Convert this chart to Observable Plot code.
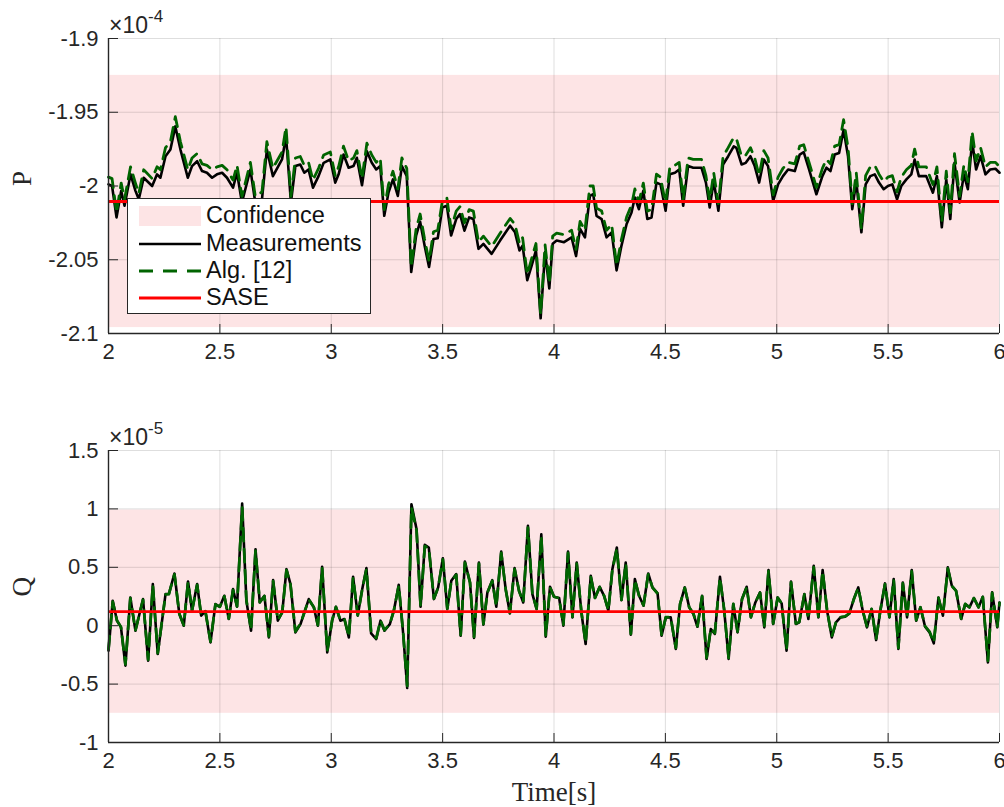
<!DOCTYPE html>
<html>
<head>
<meta charset="utf-8">
<script src="https://cdn.jsdelivr.net/npm/d3@7"></script>
<script src="https://cdn.jsdelivr.net/npm/@observablehq/plot@0.6"></script>
<style>
  body { margin: 0; background: #fff; }
  #wrap { position: relative; width: 1004px; height: 807px; font-family: "Liberation Sans", Arial, sans-serif; }
  #wrap svg { display: block; }
  .legend { position: absolute; left: 127px; top: 198px; width: 242px; height: 114px; background: #fff; border: 1.5px solid #262626; }
  .row { position: absolute; left: 0; height: 26px; width: 240px; }
  .row svg { position: absolute; left: 11px; top: 0; }
  .row span { position: absolute; left: 78px; top: -1px; font-size: 23.5px; line-height: 26px; color: #111; white-space: nowrap; }
</style>
</head>
<body>
<div id="wrap">
  <div id="top"></div>
  <div id="bottom"></div>
  <div class="legend">
    <div class="row" style="top:4px"><svg width="62" height="26"><rect x="0" y="3" width="62" height="20" fill="#fde4e5"></rect></svg><span>Confidence</span></div>
    <div class="row" style="top:31.5px"><svg width="62" height="26"><line x1="0" x2="62" y1="13" y2="13" stroke="#000" stroke-width="2.5"></line></svg><span>Measurements</span></div>
    <div class="row" style="top:58.5px"><svg width="62" height="26"><line x1="0" x2="62" y1="13" y2="13" stroke="#006400" stroke-width="2.8" stroke-dasharray="14,10"></line></svg><span>Alg. [12]</span></div>
    <div class="row" style="top:85.5px"><svg width="62" height="26"><line x1="0" x2="62" y1="13" y2="13" stroke="#ff0000" stroke-width="2.8"></line></svg><span>SASE</span></div>
  </div>
</div>
<script>
// ---------- shared axis data ----------
const xDomain = [2, 6];
const xTicks = [2, 2.5, 3, 3.5, 4, 4.5, 5, 5.5, 6];

// ---------- P panel (×10^-4) ----------
const pDomain = [-2.1, -1.9];
const pTicks = [-2.1, -2.05, -2, -1.95, -1.9];
const pBand = [-2.096, -1.925];
const pSase = -2.0105;
const pT = [2.000,2.016,2.036,2.057,2.072,2.099,2.121,2.136,2.158,2.196,2.218,2.233,2.256,2.278,2.300,2.323,2.356,2.375,2.398,2.420,
2.442,2.465,2.487,2.510,2.532,2.559,2.577,2.599,2.637,2.659,2.689,2.711,2.738,2.779,2.797,2.819,2.839,2.861,2.879,2.898,
2.918,2.943,2.966,2.996,3.018,3.033,3.055,3.078,3.100,3.115,3.138,3.160,3.182,3.202,3.220,3.238,3.257,3.277,3.299,3.317,
3.339,3.359,3.381,3.399,3.419,3.439,3.459,3.478,3.499,3.519,3.538,3.561,3.578,3.598,3.619,3.638,3.661,3.683,3.720,3.758,
3.803,3.825,3.845,3.859,3.880,3.900,3.919,3.940,3.960,3.979,3.994,4.012,4.045,4.079,4.099,4.117,4.139,4.161,4.176,4.191,
4.214,4.236,4.259,4.281,4.303,4.326,4.348,4.363,4.381,4.401,4.419,4.438,4.460,4.478,4.501,4.520,4.543,4.562,4.580,4.602,
4.625,4.662,4.682,4.699,4.717,4.738,4.759,4.782,4.807,4.819,4.842,4.861,4.882,4.901,4.921,4.942,4.961,4.984,5.006,5.028,
5.051,5.081,5.103,5.121,5.145,5.178,5.205,5.223,5.241,5.260,5.280,5.300,5.320,5.339,5.357,5.380,5.399,5.420,5.440,5.459,
5.480,5.499,5.519,5.540,5.559,5.582,5.604,5.619,5.638,5.671,5.701,5.719,5.741,5.761,5.779,5.798,5.821,5.840,5.858,5.877,
5.895,5.915,5.937,5.958,5.982,6.000];
const pMeas = [-1.9989,-2.0000,-2.0213,-2.0033,-2.0134,-1.9921,-2.0033,-2.0090,-1.9944,-2.0000,-1.9921,-1.9944,-1.9798,-1.9753,-1.9596,-1.9753,-1.9944,-1.9865,-1.9832,-1.9899,
-1.9910,-1.9944,-1.9921,-1.9910,-1.9944,-2.0011,-1.9910,-2.0112,-1.9888,-2.0112,-2.0090,-1.9753,-1.9933,-1.9820,-1.9663,-2.0112,-1.9865,-1.9854,-1.9910,-1.9888,
-2.0011,-1.9933,-1.9843,-1.9820,-1.9977,-1.9921,-1.9787,-1.9876,-1.9865,-1.9809,-1.9995,-1.9764,-1.9843,-1.9888,-1.9865,-2.0202,-2.0045,-1.9955,-2.0067,-1.9865,
-1.9933,-2.0583,-2.0336,-2.0242,-2.0404,-2.0549,-2.0359,-2.0354,-2.0146,-2.0134,-2.0336,-2.0224,-2.0191,-2.0303,-2.0213,-2.0224,-2.0426,-2.0392,-2.0460,-2.0370,
-2.0269,-2.0314,-2.0437,-2.0404,-2.0639,-2.0538,-2.0437,-2.0897,-2.0448,-2.0695,-2.0392,-2.0370,-2.0381,-2.0348,-2.0475,-2.0291,-2.0348,-2.0067,-2.0056,-2.0202,
-2.0224,-2.0348,-2.0314,-2.0572,-2.0404,-2.0258,-2.0179,-2.0078,-2.0157,-2.0033,-2.0224,-2.0213,-1.9977,-1.9989,-2.0168,-1.9921,-1.9910,-1.9888,-2.0134,-1.9865,
-1.9876,-1.9876,-1.9977,-2.0146,-1.9966,-2.0168,-1.9854,-1.9798,-1.9731,-1.9742,-1.9854,-1.9843,-1.9798,-1.9865,-1.9977,-1.9820,-1.9865,-2.0101,-1.9989,-1.9933,
-1.9888,-1.9899,-1.9787,-1.9771,-1.9888,-2.0056,-1.9933,-1.9876,-1.9899,-1.9787,-1.9776,-1.9619,-1.9798,-2.0157,-1.9966,-2.0314,-1.9989,-1.9933,-1.9921,-1.9977,
-2.0022,-2.0000,-1.9989,-2.0090,-2.0000,-1.9955,-1.9921,-1.9820,-1.9933,-1.9933,-2.0045,-1.9933,-2.0280,-1.9955,-2.0224,-1.9843,-2.0112,-1.9921,-2.0022,-1.9697,
-1.9888,-1.9798,-1.9921,-1.9888,-1.9883,-1.9910];
const pAlg = [-1.994,-1.995,-2.018,-1.998,-2.009,-1.987,-1.998,-2.005,-1.989,-1.995,-1.987,-1.989,-1.974,-1.970,-1.953,-1.970,-1.989,-1.981,-1.978,-1.985,
-1.986,-1.989,-1.987,-1.986,-1.989,-1.996,-1.986,-2.007,-1.984,-2.007,-2.004,-1.970,-1.988,-1.977,-1.960,-2.007,-1.981,-1.980,-1.986,-1.984,
-1.996,-1.988,-1.979,-1.977,-1.993,-1.987,-1.973,-1.983,-1.981,-1.976,-1.995,-1.971,-1.979,-1.984,-1.981,-2.016,-1.999,-1.990,-2.002,-1.981,
-1.988,-2.055,-2.029,-2.019,-2.036,-2.051,-2.031,-2.030,-2.010,-2.008,-2.029,-2.017,-2.014,-2.025,-2.016,-2.017,-2.038,-2.034,-2.041,-2.032,
-2.022,-2.026,-2.039,-2.035,-2.060,-2.049,-2.039,-2.087,-2.040,-2.066,-2.034,-2.032,-2.033,-2.030,-2.043,-2.024,-2.030,-2.000,-2.000,-2.015,
-2.017,-2.030,-2.026,-2.054,-2.036,-2.021,-2.013,-2.002,-2.011,-1.998,-2.017,-2.016,-1.992,-1.994,-2.012,-1.987,-1.986,-1.984,-2.009,-1.981,
-1.982,-1.982,-1.993,-2.010,-1.991,-2.012,-1.980,-1.974,-1.967,-1.968,-1.980,-1.979,-1.974,-1.981,-1.993,-1.976,-1.981,-2.006,-1.994,-1.988,
-1.984,-1.985,-1.973,-1.972,-1.984,-2.001,-1.988,-1.982,-1.985,-1.973,-1.972,-1.955,-1.974,-2.012,-1.991,-2.029,-1.993,-1.987,-1.986,-1.992,
-1.997,-1.994,-1.993,-2.004,-1.994,-1.989,-1.986,-1.975,-1.987,-1.987,-1.999,-1.987,-2.024,-1.990,-2.018,-1.978,-2.007,-1.986,-1.997,-1.963,
-1.983,-1.974,-1.987,-1.984,-1.984,-1.987];

// ---------- Q panel (×10^-5) ----------
const qDomain = [-1, 1.5];
const qTicks = [-1, -0.5, 0, 0.5, 1, 1.5];
const qBand = [-0.75, 0.99];
const qSase = 0.12;
const qT = [2.000,2.019,2.038,2.056,2.076,2.098,2.121,2.155,2.178,2.199,2.221,2.256,2.271,2.296,2.318,2.338,2.357,2.375,2.398,2.416,
2.435,2.458,2.480,2.500,2.520,2.540,2.559,2.577,2.600,2.619,2.640,2.660,2.679,2.700,2.720,2.739,2.760,2.780,2.799,2.817,
2.839,2.862,2.899,2.922,2.940,2.959,2.982,3.004,3.021,3.041,3.059,3.079,3.098,3.119,3.139,3.158,3.179,3.202,3.221,3.239,
3.263,3.281,3.303,3.323,3.341,3.360,3.383,3.401,3.420,3.438,3.461,3.480,3.501,3.521,3.539,3.561,3.581,3.600,3.623,3.641,
3.663,3.683,3.701,3.723,3.741,3.763,3.783,3.802,3.823,3.843,3.862,3.883,3.903,3.922,3.943,3.963,3.982,4.000,4.023,4.042,
4.063,4.083,4.102,4.123,4.142,4.165,4.184,4.205,4.225,4.244,4.262,4.282,4.303,4.322,4.345,4.363,4.382,4.402,4.423,4.442,
4.465,4.483,4.502,4.524,4.547,4.566,4.587,4.607,4.626,4.644,4.665,4.685,4.704,4.722,4.745,4.764,4.784,4.805,4.824,4.844,
4.865,4.884,4.904,4.925,4.944,4.963,4.984,5.004,5.022,5.044,5.064,5.086,5.101,5.124,5.142,5.166,5.187,5.206,5.226,5.247,
5.266,5.286,5.307,5.326,5.346,5.366,5.386,5.405,5.426,5.446,5.465,5.486,5.506,5.525,5.546,5.566,5.585,5.606,5.626,5.645,
5.666,5.686,5.705,5.726,5.746,5.768,5.786,5.805,5.828,5.846,5.865,5.885,5.906,5.925,5.948,5.967,5.990,6.000];
const qMeas = [-0.214,0.214,0.043,-0.014,-0.342,0.242,-0.043,0.228,-0.299,0.356,-0.242,0.271,0.271,0.447,0.100,0.000,0.379,0.128,0.356,0.086,
0.123,-0.143,0.185,0.162,0.256,0.057,0.313,0.162,1.046,0.214,-0.043,0.655,0.199,0.256,-0.100,0.390,0.043,0.114,0.484,0.356,
-0.057,0.014,0.228,0.157,0.000,0.504,-0.228,0.043,0.162,0.043,0.057,-0.100,0.419,0.086,0.313,0.493,-0.066,-0.114,0.043,-0.043,
0.014,0.128,0.350,-0.071,-0.533,1.040,0.826,0.162,0.692,0.669,0.228,0.328,0.578,0.142,0.385,0.442,-0.086,0.550,0.370,-0.105,
0.541,0.009,0.285,0.390,0.162,0.635,0.313,0.105,0.493,0.299,0.199,0.855,0.271,0.142,0.783,-0.094,0.333,0.248,0.237,0.000,
0.635,0.071,0.541,0.114,-0.157,0.427,0.237,0.333,0.256,0.128,0.484,0.670,0.219,0.541,-0.077,0.399,0.256,0.171,0.447,0.328,
0.276,-0.086,0.071,0.071,-0.199,0.185,0.328,0.157,0.100,-0.009,0.256,-0.285,-0.028,-0.071,0.419,0.134,-0.285,0.185,-0.057,0.228,
0.333,0.071,0.199,0.285,-0.014,0.476,0.014,0.242,0.191,-0.214,0.379,0.014,0.029,0.271,0.057,0.513,0.071,0.476,0.128,-0.100,
0.029,0.071,0.077,0.105,0.228,0.328,0.128,-0.014,0.142,-0.123,0.128,0.362,0.071,0.399,-0.199,0.370,0.071,0.476,0.043,0.157,
-0.009,-0.057,-0.151,0.242,0.086,0.499,0.342,0.299,0.057,0.185,0.157,0.237,0.157,0.248,-0.314,0.285,-0.014,0.199];
const qAlg = [-0.200,0.205,0.045,-0.010,-0.330,0.235,-0.038,0.222,-0.290,0.348,-0.235,0.268,0.270,0.440,0.102,0.004,0.372,0.130,0.350,0.090,
0.124,-0.136,0.182,0.163,0.252,0.060,0.306,0.165,1.010,0.220,-0.035,0.640,0.202,0.254,-0.092,0.382,0.048,0.116,0.475,0.352,
-0.050,0.018,0.224,0.158,0.005,0.494,-0.218,0.048,0.160,0.046,0.058,-0.094,0.410,0.090,0.308,0.484,-0.058,-0.106,0.045,-0.038,
0.016,0.130,0.343,-0.064,-0.515,1.010,0.815,0.168,0.682,0.662,0.232,0.326,0.568,0.146,0.380,0.436,-0.078,0.540,0.368,-0.096,
0.532,0.014,0.283,0.384,0.166,0.624,0.312,0.110,0.485,0.298,0.202,0.840,0.272,0.146,0.770,-0.086,0.328,0.248,0.236,0.006,
0.624,0.076,0.532,0.118,-0.148,0.418,0.238,0.330,0.255,0.132,0.476,0.660,0.222,0.532,-0.070,0.392,0.255,0.174,0.440,0.326,
0.276,-0.078,0.074,0.073,-0.190,0.186,0.324,0.158,0.102,-0.004,0.252,-0.275,-0.024,-0.064,0.410,0.138,-0.275,0.186,-0.050,0.226,
0.328,0.074,0.200,0.282,-0.008,0.466,0.018,0.240,0.192,-0.205,0.370,0.018,0.032,0.268,0.060,0.502,0.075,0.466,0.132,-0.092,
0.032,0.073,0.079,0.106,0.226,0.324,0.130,-0.008,0.144,-0.115,0.130,0.355,0.075,0.392,-0.190,0.362,0.075,0.466,0.047,0.158,
-0.004,-0.050,-0.142,0.238,0.090,0.490,0.340,0.298,0.060,0.186,0.158,0.236,0.158,0.246,-0.300,0.280,-0.008,0.195];

const SANS = "'Liberation Sans', Arial, sans-serif";
const SERIF = "'Liberation Serif', 'Times New Roman', serif";

function panel({t, meas, alg, sase, band, domain, ticks, height, marginTop, marginBottom, label, expo}) {
  const mData = t.map((x, i) => ({t: x, v: meas[i]}));
  const aData = t.map((x, i) => ({t: x, v: alg[i]}));
  const bandData = [{x1: xDomain[0], x2: xDomain[1], y1: band[0], y2: band[1]}];
  const svg = Plot.plot({
    width: 1004, height, marginLeft: 108, marginRight: 5, marginTop, marginBottom,
    x: {domain: xDomain},
    y: {domain},
    style: {fontFamily: SANS, fontSize: "22px", color: "#262626", background: "transparent", overflow: "visible"},
    marks: [
      Plot.rect(bandData, {x1: "x1", x2: "x2", y1: "y1", y2: "y2", fill: "#fde4e5"}),
      Plot.gridX({ticks: xTicks, stroke: "#000", strokeOpacity: 0.13}),
      Plot.gridY({ticks: ticks, stroke: "#000", strokeOpacity: 0.13}),
      Plot.line(mData, {x: "t", y: "v", stroke: "#000", strokeWidth: 2.6}),
      Plot.line(aData, {x: "t", y: "v", stroke: "#006400", strokeWidth: 2.8, strokeDasharray: "13,8"}),
      Plot.ruleY([sase], {stroke: "#ff0000", strokeWidth: 2.8}),
      Plot.ruleX([xDomain[0]], {stroke: "#262626", strokeWidth: 1.4}),
      Plot.ruleY([domain[0]], {stroke: "#262626", strokeWidth: 1.4}),
      Plot.axisX({ticks: xTicks, tickSize: -9, tickPadding: 19, tickFormat: d => String(d), label: null, fontSize: 22}),
      Plot.axisY({ticks: ticks, tickSize: -10, tickPadding: 20, tickFormat: d => String(d), label: null, fontSize: 22}),
      Plot.text([label], {frameAnchor: "left", dx: -86, rotate: -90, fontFamily: SERIF, fontSize: 27, fill: "#262626"})
    ]
  });
  // exponent annotation
  const ex = d3.select(svg).append("text")
    .attr("x", 109).attr("y", marginTop - 5)
    .attr("text-anchor", "start")
    .attr("fill", "#262626").attr("font-size", 23)
    .attr("font-family", SANS);
  ex.append("tspan").text("×10");
  ex.append("tspan").attr("dy", -11).attr("font-size", 17).text(expo);
  return svg;
}

document.getElementById("top").appendChild(panel({
  t: pT, meas: pMeas, alg: pAlg, sase: pSase, band: pBand, domain: pDomain, ticks: pTicks,
  height: 370, marginTop: 38, marginBottom: 37, label: "P", expo: "-4"
}));
const bottom = panel({
  t: qT, meas: qMeas, alg: qAlg, sase: qSase, band: qBand, domain: qDomain, ticks: qTicks,
  height: 437, marginTop: 80, marginBottom: 65, label: "Q", expo: "-5"
});
document.getElementById("bottom").appendChild(bottom);
// x-axis title for the bottom panel
d3.select(bottom).append("text")
  .attr("x", 554).attr("y", 431).attr("text-anchor", "middle")
  .attr("fill", "#262626").attr("font-size", 27)
  .attr("font-family", SERIF)
  .text("Time[s]");
</script>
</body>
</html>
